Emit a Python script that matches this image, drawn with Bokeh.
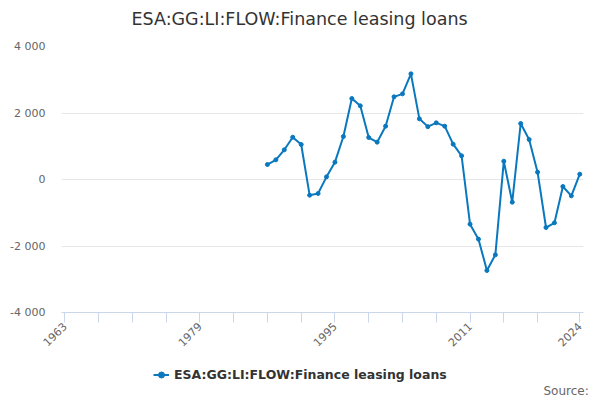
from bokeh.plotting import figure
from bokeh.models import FixedTicker, Range1d, Legend, LegendItem, Label, ColumnDataSource
from bokeh.layouts import column
from bokeh.embed import file_html
from bokeh.resources import INLINE

title = "ESA:GG:LI:FLOW:Finance leasing loans"
series_name = "ESA:GG:LI:FLOW:Finance leasing loans"
source_text = "Source:"
years = list(range(1987, 2025))
values = [451, 592, 893, 1272, 1053, -472, -421, 80, 521, 1293,
          2436, 2216, 1263, 1123, 1604, 2486, 2576, 3178, 1825, 1590,
          1704, 1604, 1063, 712, -1343, -1794, -2737, -2265, 551, -682,
          1684, 1203, 221, -1444, -1303, -211, -491, 160]
x_major_ticks = [1963, 1979, 1995, 2011, 2024]
x_minor_ticks = [1967, 1971, 1975, 1983, 1987, 1991, 1999, 2003, 2007, 2015, 2019]
y_ticks = [-4000, -2000, 0, 2000, 4000]
y_tick_labels = ["-4 000", "-2 000", "0", "2 000", "4 000"]

FONT = "DejaVu Sans"
COLOR = "#0a78be"


def strip(height):
    s = figure(width=600, height=height, output_backend="svg", toolbar_location=None,
               x_range=Range1d(0, 1), y_range=Range1d(0, 1),
               x_axis_type=None, y_axis_type=None,
               min_border_left=0, min_border_right=0, min_border_top=0, min_border_bottom=0)
    s.outline_line_color = None
    s.grid.visible = False
    return s


# title strip
p0 = strip(34)

# main chart
p = figure(width=600, height=324, output_backend="svg", toolbar_location=None,
           x_range=Range1d(1962.61, 2024.44), y_range=Range1d(-4000, 4000),
           min_border_left=61, min_border_right=17, min_border_top=12, min_border_bottom=46)
p.outline_line_color = None
p.background_fill_color = "white"
p.border_fill_color = "white"

# legend / source strip
p2 = strip(42)

ox = 61
if "frame_align" in p2.properties():
    for f in (p0, p, p2):
        f.frame_align = False
    ox = 0

t = Label(x=131 - ox, y=16, x_units="screen", y_units="screen", text=title,
          text_font=FONT, text_font_size="17.5px", text_color="#333333",
          text_baseline="middle", text_align="left")
p0.add_layout(t)

src_main = ColumnDataSource(data=dict(x=years, y=values))
p.line("x", "y", source=src_main, line_color=COLOR, line_width=2)
p.scatter("x", "y", source=src_main, size=4, fill_color=COLOR, line_color=COLOR)

# x axis
xa = p.xaxis[0]
xa.ticker = FixedTicker(ticks=x_major_ticks, minor_ticks=x_minor_ticks)
xa.major_label_overrides = {t: str(t) for t in x_major_ticks}
xa.major_label_orientation = 0.785398
xa.axis_line_color = "#ccd6eb"
xa.major_tick_line_color = "#ccd6eb"
xa.minor_tick_line_color = "#ccd6eb"
xa.major_tick_in = 0
xa.major_tick_out = 10
xa.minor_tick_in = 0
xa.minor_tick_out = 10
xa.major_label_text_font = FONT
xa.major_label_text_font_size = "11px"
xa.major_label_text_color = "#666666"
xa.major_label_standoff = 2

# y axis
ya = p.yaxis[0]
ya.ticker = FixedTicker(ticks=y_ticks, minor_ticks=[])
ya.major_label_overrides = {t: l for t, l in zip(y_ticks, y_tick_labels)}
ya.axis_line_color = None
ya.major_tick_line_color = None
ya.minor_tick_line_color = None
ya.major_tick_out = 0
ya.major_tick_in = 0
ya.major_label_standoff = 16
ya.major_label_text_font = FONT
ya.major_label_text_font_size = "11px"
ya.major_label_text_color = "#666666"

p.xgrid.grid_line_color = None
p.ygrid.grid_line_color = "#e6e6e6"

# legend sample renderers: same series, outside this strip's ranges (not visible)
l_line = p2.line("x", "y", source=src_main, line_color=COLOR, line_width=2)
l_pts = p2.scatter("x", "y", source=src_main, size=4, fill_color=COLOR, line_color=COLOR)

legend = Legend(items=[LegendItem(label=series_name, renderers=[l_line, l_pts])],
                location=(153 - ox, 18), orientation="horizontal",
                label_text_font=FONT, label_text_font_size="12.5px",
                label_text_font_style="bold", label_text_color="#333333",
                glyph_width=16, glyph_height=15, label_height=15, padding=0, margin=0,
                background_fill_alpha=0, border_line_color=None, label_standoff=5)
p2.add_layout(legend)

src = Label(x=543 - ox, y=10, x_units="screen", y_units="screen", text=source_text,
            text_font=FONT, text_font_size="12px", text_color="#666666",
            text_baseline="middle")
p2.add_layout(src)

layout = column(p0, p, p2, spacing=0)
open("out.html", "w").write(file_html(layout, INLINE))
